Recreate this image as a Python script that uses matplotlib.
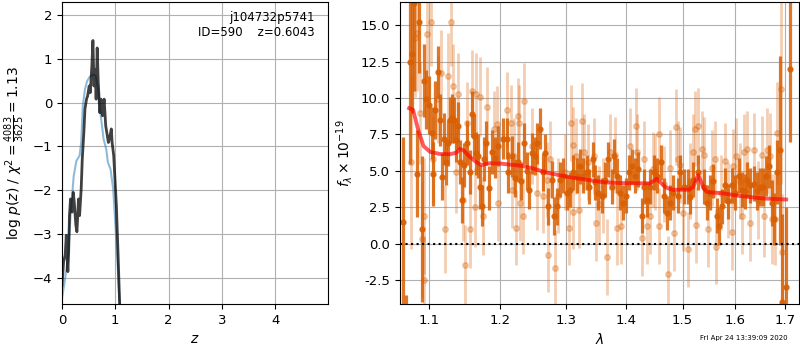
import matplotlib
matplotlib.use("Agg")
import matplotlib.pyplot as plt
from matplotlib.ticker import FixedLocator, FormatStrFormatter, NullLocator

# ---- p(z) curves (left panel)
z_prior = [0.0, 0.05, 0.11, 0.16, 0.22, 0.27, 0.33, 0.36, 0.39, 0.43, 0.47, 0.52, 0.58,
           0.63, 0.675, 0.725, 0.78, 0.83, 0.86, 0.91, 0.96, 1.01, 1.05, 1.08, 1.10]
lnp_prior = [-4.47, -4.09, -3.56, -2.58, -1.67, -1.33, -1.21, -0.91, -0.08, 0.30, 0.49, 0.59, 0.64,
             0.62, 0.34, -0.27, -0.83, -1.06, -1.36, -1.52, -1.97, -2.95, -3.86, -4.55, -5.2]

z_fit = [0.0, 0.03, 0.06, 0.08, 0.11, 0.125, 0.14, 0.16, 0.19, 0.21, 0.23, 0.26, 0.28, 0.31,
         0.33, 0.36, 0.38, 0.41, 0.43, 0.46, 0.48, 0.51, 0.53, 0.56, 0.58, 0.60, 0.625, 0.64,
         0.66, 0.68, 0.71, 0.73, 0.76, 0.79, 0.82, 0.84, 0.87, 0.89, 0.925, 0.94, 0.97, 0.99,
         1.02, 1.05, 1.08, 1.10]
lnp_fit = [-4.17, -3.64, -3.48, -3.03, -3.86, -3.41, -2.58, -2.2, -2.5, -2.05, -2.27, -2.8, -2.95, -2.2,
           -2.58, -1.97, -1.29, -0.68, -0.15, 0.08, 0.15, 0.38, 0.23, 0.83, 1.42, 0.38, 0.76, 0.08,
           1.25, 0.45, -0.23, 0.08, -0.3, 0.08, -0.53, -0.68, -0.91, -0.83, -0.6, -0.91, -1.21, -1.67,
           -2.35, -3.41, -4.55, -5.2]

# ---- spectrum (right panel), flux in 1e-19
wave_a = [1.0647, 1.0690, 1.0743, 1.0769, 1.0796, 1.0835, 1.0862, 1.0902, 1.0929, 1.0956,
          1.1000, 1.1036, 1.1050, 1.1077, 1.1118, 1.1145, 1.1173, 1.1200, 1.1228, 1.1255,
          1.1283, 1.1310, 1.1338, 1.1366, 1.1394, 1.1422, 1.1450, 1.1478, 1.1520, 1.1563,
          1.1591, 1.1619, 1.1648, 1.1677, 1.1705, 1.1734, 1.1763, 1.1792, 1.1835, 1.1879,
          1.1922, 1.1966, 1.2044, 1.2095, 1.2118, 1.2169, 1.2218, 1.2268, 1.2304, 1.2354,
          1.2395, 1.2434, 1.2471, 1.2521, 1.2557, 1.2598, 1.2640, 1.2676, 1.2727, 1.2780,
          1.2816, 1.2859, 1.2911, 1.2963, 1.3017, 1.3070, 1.3123, 1.3178, 1.3231, 1.3285,
          1.3350, 1.3383, 1.3439, 1.3477, 1.3531, 1.3588, 1.3643, 1.3698, 1.3755, 1.3794,
          1.3840, 1.3896, 1.3942, 1.3999, 1.4055, 1.4102, 1.4154, 1.4211, 1.4271, 1.4311,
          1.4358, 1.4416, 1.4475, 1.4535, 1.4607, 1.4666, 1.4714, 1.4774, 1.4834, 1.4907,
          1.4956, 1.5017, 1.5091, 1.5141, 1.5202, 1.5277, 1.5390, 1.5454, 1.5516, 1.5579,
          1.5644, 1.5694, 1.5741, 1.5804, 1.5868, 1.5935, 1.5999, 1.6064, 1.6131, 1.6196,
          1.6242, 1.6296, 1.6362, 1.6430, 1.6497, 1.6551, 1.6619, 1.6667, 1.6735, 1.6783,
          1.6838, 1.6892, 1.6942, 1.7031, 1.7100]
flux_a = [1.5, -4.5, 12.5, 13.0, 16.5, 4.8, 15.2, 1.0, 11.2, 9.9,
          9.5, 7.6, 4.8, 9.2, 11.8, 8.5, 4.6, 7.2, 5.6, 6.9,
          8.5, 8.6, 8.5, 7.1, 8.1, 5.6, 3.0, 5.4, 6.9, 4.9,
          8.9, 7.4, 6.2, 6.0, 3.9, 2.6, 5.8, 6.9, 3.8, 6.3,
          5.9, 6.7, 7.2, 7.2, 4.9, 6.0, 4.5, 5.6, 4.3, 6.9,
          5.0, 3.7, 6.2, 6.0, 6.9, 7.9, 4.9, 6.2, 2.55, 4.4,
          1.9, 2.55, 4.4, 4.65, 3.5, 3.7, 4.9, 4.65, 5.3, 4.65,
          4.9, 3.9, 5.8, 4.2, 3.5, 3.3, 4.4, 5.8, 3.9, 6.0,
          4.65, 3.5, 2.8, 3.3, 4.9, 5.3, 4.65, 5.1, 1.9, 3.9,
          3.0, 3.9, 4.9, 4.65, 5.6, 3.3, 2.1, 2.8, 3.5, 3.3,
          4.9, 3.9, 3.9, 3.2, 4.4, 4.9, 3.9, 2.8, 3.5, 4.3,
          1.9, 1.2, 2.55, 4.0, 2.9, 4.0, 3.5, 4.65, 3.7, 3.6,
          4.4, 4.0, 4.1, 3.6, 3.9, 3.9, 4.65, 5.3, 2.8, 1.7,
          4.9, 6.4, -4.0, -3.0, 12.0]
err_a = [5.8, 1.0, 7.0, 4.0, 6.0, 3.0, 3.5, 5.0, 2.5, 2.0,
         2.0, 1.8, 2.2, 2.0, 1.8, 1.8, 1.6, 1.8, 1.6, 1.6,
         1.6, 1.7, 1.6, 1.5, 1.6, 1.5, 1.6, 1.5, 1.5, 1.5,
         1.6, 1.5, 1.5, 1.5, 1.5, 1.4, 1.5, 1.5, 1.5, 1.5,
         1.4, 1.4, 1.4, 1.4, 1.4, 1.4, 1.3, 1.4, 1.3, 1.4,
         1.3, 1.3, 1.4, 1.3, 1.4, 1.4, 1.3, 1.3, 1.3, 1.3,
         1.3, 1.3, 1.2, 1.2, 1.2, 1.2, 1.2, 1.2, 1.2, 1.2,
         1.2, 1.2, 1.2, 1.2, 1.2, 1.2, 1.2, 1.2, 1.2, 1.2,
         1.2, 1.2, 1.2, 1.2, 1.2, 1.2, 1.2, 1.2, 1.2, 1.2,
         1.2, 1.2, 1.2, 1.2, 1.2, 1.2, 1.2, 1.2, 1.2, 1.2,
         1.2, 1.2, 1.2, 1.2, 1.2, 1.2, 1.2, 1.2, 1.2, 1.2,
         1.2, 1.3, 1.2, 1.2, 1.2, 1.2, 1.2, 1.2, 1.2, 1.2,
         1.2, 1.2, 1.2, 1.3, 1.3, 1.3, 1.4, 1.5, 1.6, 1.8,
         2.2, 6.5, 6.0, 5.5, 5.0]

wave_b = [1.0752, 1.0809, 1.0839, 1.0875, 1.0898, 1.0929, 1.0932, 1.0965, 1.1019, 1.1054,
          1.1121, 1.1154, 1.1214, 1.1259, 1.1292, 1.1328, 1.1366, 1.1398, 1.1468, 1.1496,
          1.1515, 1.1563, 1.1587, 1.1634, 1.1648, 1.1705, 1.1753, 1.1810, 1.1898, 1.1947,
          1.1971, 1.2095, 1.2154, 1.2169, 1.2203, 1.2233, 1.2268, 1.2283, 1.2293, 1.2334,
          1.2354, 1.2471, 1.2547, 1.2649, 1.2702, 1.2727, 1.2753, 1.2832, 1.2884, 1.2989,
          1.3058, 1.3081, 1.3113, 1.3123, 1.3166, 1.3204, 1.3258, 1.3296, 1.3366, 1.3449,
          1.3493, 1.3548, 1.3614, 1.3671, 1.3727, 1.3811, 1.3850, 1.3908, 1.4067, 1.4171,
          1.4193, 1.4271, 1.4311, 1.4358, 1.4416, 1.4463, 1.4505, 1.4564, 1.4581, 1.4654,
          1.4743, 1.4774, 1.4846, 1.4882, 1.4907, 1.4956, 1.5005, 1.5109, 1.5141, 1.5191,
          1.5234, 1.5252, 1.5277, 1.5359, 1.5390, 1.5484, 1.5548, 1.5611, 1.5630, 1.5721,
          1.5804, 1.5868, 1.5935, 1.5954, 1.6019, 1.6098, 1.6131, 1.6164, 1.6230, 1.6296,
          1.6362, 1.6443, 1.6531, 1.6578, 1.6633, 1.6701, 1.6735, 1.6803, 1.6850, 1.6921,
          1.6934]
flux_b = [5.6, 14.1, 14.5, 9.0, 0.3, 1.9, -2.5, 14.4, 15.2, 5.8,
          9.9, 11.7, 1.0, 11.5, 15.2, 10.8, 4.9, 10.3, 3.0, -1.45,
          8.3, 1.0, 10.5, 2.5, 10.3, 10.1, 1.9, 9.4, 7.9, 8.2,
          2.8, 9.2, 8.3, 3.7, 6.0, 1.1, 8.8, 8.3, 2.8, 1.9,
          9.8, 6.7, 3.5, 3.3, 4.4, -0.75, 5.8, -1.65, 3.3, 4.9,
          1.1, 8.3, 2.2, 6.8, 6.0, 2.3, 8.4, 6.3, 5.6, 6.0,
          1.4, 2.7, 3.3, -0.9, 6.3, 6.1, 1.1, 1.2, 6.7, 8.1,
          6.3, 0.4, 5.8, 1.2, 1.9, 5.1, 4.9, 1.2, 7.5, 4.1,
          -2.1, 5.2, 0.7, 8.0, 5.8, 5.4, 2.1, -0.4, 4.3, 6.3,
          7.9, 1.3, 8.1, 6.5, 6.1, 1.0, 5.2, 5.8, -0.2, 3.5,
          5.7, 3.0, 0.8, 5.3, 6.0, 4.3, 1.9, 6.3, 6.5, 1.4,
          6.4, 3.0, 6.1, 1.9, 6.4, 6.0, 1.7, 1.7, 7.6, 10.6,
          -0.6]
err_b = [6.0, 4.0, 4.0, 3.5, 4.0, 4.0, 3.0, 3.0, 3.0, 3.0,
         3.0, 3.0, 3.0, 3.0, 3.0, 2.9, 2.8, 2.8, 2.8, 2.7,
         2.8, 2.7, 2.8, 2.7, 2.8, 2.7, 2.7, 2.7, 2.6, 2.6,
         2.6, 2.6, 2.6, 2.6, 2.6, 2.6, 2.6, 2.6, 2.6, 2.6,
         2.6, 2.6, 2.6, 2.6, 2.6, 2.6, 2.6, 2.6, 2.6, 2.6,
         2.6, 2.6, 2.6, 2.6, 2.6, 2.6, 2.6, 2.6, 2.6, 2.6,
         2.6, 2.6, 2.6, 2.6, 2.6, 2.6, 2.6, 2.6, 2.6, 2.6,
         2.6, 2.6, 2.6, 2.6, 2.6, 2.6, 2.6, 2.6, 2.6, 2.6,
         2.6, 2.6, 2.6, 2.6, 2.6, 2.6, 2.6, 2.6, 2.6, 2.6,
         2.6, 2.6, 2.6, 2.6, 2.6, 2.6, 2.6, 2.6, 2.6, 2.6,
         2.6, 2.6, 2.6, 2.6, 2.6, 2.6, 2.6, 2.6, 2.6, 2.6,
         2.6, 2.7, 2.7, 2.8, 2.9, 3.0, 3.1, 3.2, 3.5, 6.5,
         4.0]

wave_model = [1.073, 1.078, 1.085, 1.092, 1.101, 1.115, 1.128, 1.137, 1.142, 1.147,
              1.156, 1.165, 1.172, 1.184, 1.200, 1.233, 1.250, 1.268, 1.290, 1.315,
              1.340, 1.365, 1.400, 1.441, 1.448, 1.453, 1.460, 1.470, 1.481, 1.512,
              1.520, 1.526, 1.529, 1.534, 1.540, 1.546, 1.577, 1.609, 1.656, 1.703]
flux_model = [9.3, 9.2, 7.8, 6.7, 6.3, 6.15, 6.14, 6.25, 6.5, 6.4,
              5.95, 5.6, 5.4, 5.52, 5.5, 5.33, 5.15, 4.9, 4.7, 4.5,
              4.35, 4.2, 4.15, 4.14, 4.3, 4.45, 4.2, 3.85, 3.7, 3.7,
              3.9, 4.5, 4.7, 4.3, 3.75, 3.55, 3.45, 3.27, 3.1, 3.03]

wave_ticks = [1.1, 1.2, 1.3, 1.4, 1.5, 1.6, 1.7]
orange = '#d95f02'

fig = plt.figure(figsize=(8, 3.5), dpi=100)

# left: p(z)
ax1 = fig.add_axes([0.0775, 0.1314, 0.3325, 0.863])
ax1.plot(z_prior, lnp_prior, color='tab:blue', alpha=0.5, lw=1.5)
ax1.plot(z_fit, lnp_fit, color='k', alpha=0.75, lw=2)
ax1.set_xlim(0, 4.99)
ax1.set_ylim(-4.6, 2.3)
ax1.set_xticks([0, 1, 2, 3, 4])
ax1.set_yticks([-4, -3, -2, -1, 0, 1, 2])
ax1.set_xlabel('$z$')
ax1.set_ylabel(r'$\log\,p(z)$ / $\chi^2=\frac{4083}{3625}=1.13$')
ax1.text(0.95, 0.97, 'j104732p5741\nID=590    z=0.6043', transform=ax1.transAxes,
         ha='right', va='top', fontsize=8.5)
ax1.grid(True)
ax1.tick_params(labelsize=9.5)

# right: spectrum
ax2 = fig.add_axes([0.5, 0.1314, 0.49875, 0.863])
ax2.errorbar(wave_b, flux_b, yerr=err_b, color=orange, alpha=0.3, marker='o',
             linestyle='none', ms=4, elinewidth=2)
ax2.errorbar(wave_a, flux_a, yerr=err_a, color=orange, alpha=0.85, marker='o',
             linestyle='none', ms=3.5, elinewidth=2.3)
ax2.plot(wave_model, flux_model, color='red', alpha=0.65, lw=2.8, zorder=5)
ax2.axhline(0, color='k', linestyle=':', lw=1.5, zorder=6)
ax2.set_xscale('log')
ax2.set_xlim(1.061, 1.73)
ax2.set_ylim(-4.15, 16.6)
ax2.xaxis.set_major_locator(FixedLocator(wave_ticks))
ax2.xaxis.set_major_formatter(FormatStrFormatter('%.1f'))
ax2.xaxis.set_minor_locator(NullLocator())
ax2.set_yticks([-2.5, 0, 2.5, 5, 7.5, 10, 12.5, 15])
ax2.yaxis.set_major_formatter(FormatStrFormatter('%.1f'))
ax2.set_xlabel(r'$\lambda$')
ax2.set_ylabel(r'$f_\lambda\times 10^{-19}$')
ax2.grid(True)
ax2.tick_params(labelsize=9.5)

fig.text(0.985, 0.025, 'Fri Apr 24 13:39:09 2020', ha='right', va='bottom', fontsize=5)

fig.savefig('out.png', dpi=100)
